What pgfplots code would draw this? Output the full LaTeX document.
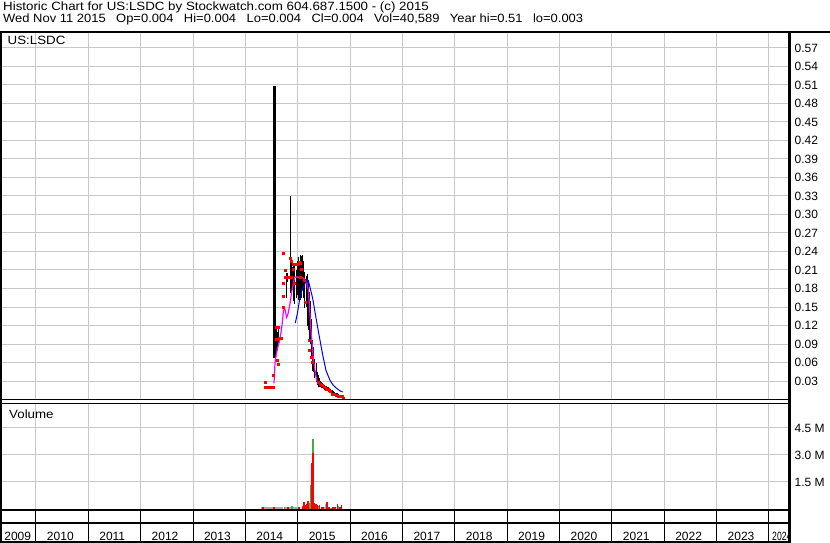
\documentclass[border=0pt]{standalone}
\usepackage{graphicx}
\usepackage{pgfplots}
\pgfplotsset{compat=1.18}
\usepackage{pgfplotstable}
\usepackage{fontspec}
\setmainfont{Liberation Sans}

\definecolor{gridgray}{RGB}{200,200,200}
\definecolor{volred}{RGB}{255,0,0}
\definecolor{volgreen}{RGB}{70,170,70}
\definecolor{volgray}{RGB}{170,170,170}
\definecolor{mablue}{RGB}{0,0,255}
\definecolor{mamag}{RGB}{255,0,255}
\newcommand{\tw}{\fontsize{12pt}{14pt}\selectfont}
\newcommand{\hx}[1]{\scalebox{1.11}[1]{#1}}
\newcommand{\gap}{\hspace{9.7pt}}

% daily high/low bars (year, low, high)
\pgfplotstableread{
x lo hi
2014.545 0.068 0.509
2014.555 0.068 0.509
2014.565 0.068 0.509
2014.584 0.075 0.120
2014.603 0.080 0.110
2014.622 0.090 0.118
2014.775 0.165 0.205
2014.794 0.190 0.205
2014.870 0.172 0.330
2014.889 0.175 0.221
2014.908 0.180 0.215
2014.927 0.160 0.222
2014.946 0.155 0.218
2014.966 0.165 0.210
2014.985 0.170 0.225
2015.004 0.161 0.231
2015.023 0.165 0.222
2015.042 0.161 0.234
2015.061 0.170 0.230
2015.080 0.165 0.232
2015.099 0.177 0.234
2015.118 0.165 0.225
2015.137 0.148 0.207
2015.157 0.150 0.200
2015.176 0.120 0.204
2015.195 0.112 0.190
2015.214 0.096 0.175
2015.233 0.090 0.160
2015.252 0.069 0.130
2015.271 0.065 0.118
2015.290 0.047 0.096
2015.309 0.045 0.085
2015.328 0.035 0.065
2015.348 0.028 0.059
2015.367 0.024 0.045
2015.386 0.020 0.040
2015.405 0.020 0.035
2015.424 0.020 0.030
2015.443 0.020 0.028
2015.462 0.018 0.028
2015.481 0.018 0.026
2015.500 0.017 0.025
2015.519 0.016 0.024
2015.539 0.015 0.022
2015.558 0.013 0.020
2015.577 0.012 0.020
2015.596 0.011 0.018
2015.615 0.010 0.017
2015.634 0.009 0.016
2015.653 0.008 0.015
2015.672 0.007 0.015
2015.691 0.006 0.013
2015.710 0.006 0.012
2015.730 0.005 0.011
2015.749 0.005 0.010
2015.768 0.005 0.009
2015.787 0.004 0.008
2015.806 0.004 0.008
2015.825 0.004 0.007
2015.844 0.003 0.006
2015.863 0.003 0.006
}\bars

% close ticks
\pgfplotstableread{
x c
2014.374 0.028
2014.374 0.020
2014.412 0.020
2014.450 0.020
2014.488 0.020
2014.526 0.020
2014.526 0.039
2014.584 0.118
2014.622 0.118
2014.584 0.098
2014.613 0.064
2014.622 0.058
2014.641 0.099
2014.679 0.099
2014.717 0.150
2014.717 0.167
2014.717 0.189
2014.717 0.238
2014.756 0.210
2014.756 0.199
2014.794 0.199
2014.832 0.199
2014.870 0.199
2014.851 0.229
2014.870 0.225
2014.908 0.219
2014.908 0.211
2014.927 0.189
2014.946 0.219
2014.985 0.219
2015.023 0.223
2015.042 0.221
2015.042 0.199
2015.061 0.212
2015.118 0.193
2015.137 0.158
2015.214 0.096
2015.214 0.080
2015.252 0.069
2015.271 0.060
2015.386 0.028
2015.424 0.025
2015.462 0.024
2015.500 0.020
2015.539 0.017
2015.577 0.016
2015.615 0.013
2015.653 0.009
2015.691 0.008
2015.730 0.007
2015.768 0.006
2015.806 0.005
2015.844 0.005
2015.863 0.002
}\closes

% short moving average
\pgfplotstableread{
x v
2014.545 0.026
2014.565 0.060
2014.593 0.075
2014.628 0.088
2014.660 0.098
2014.698 0.120
2014.727 0.145
2014.756 0.146
2014.788 0.133
2014.813 0.139
2014.851 0.155
2014.880 0.173
2014.908 0.185
2014.937 0.198
2014.985 0.199
2015.036 0.197
2015.080 0.198
2015.131 0.195
2015.166 0.191
2015.195 0.180
2015.220 0.156
2015.246 0.118
2015.271 0.093
2015.296 0.067
2015.328 0.047
2015.361 0.031
2015.392 0.027
2015.457 0.023
2015.519 0.021
2015.583 0.015
2015.648 0.010
2015.743 0.007
2015.839 0.006
}\maShort

% long moving average
\pgfplotstableread{
x v
2014.952 0.124
2014.991 0.139
2015.017 0.153
2015.042 0.166
2015.071 0.175
2015.105 0.181
2015.137 0.188
2015.170 0.193
2015.201 0.193
2015.233 0.182
2015.284 0.164
2015.328 0.142
2015.373 0.120
2015.424 0.096
2015.476 0.072
2015.539 0.047
2015.615 0.031
2015.678 0.023
2015.743 0.018
2015.806 0.014
2015.857 0.012
}\maLong

% volume, millions
\pgfplotstableread{
x v
2014.316 0.07
2014.354 0.07
2014.393 0.07
2014.431 0.07
2014.469 0.07
2014.507 0.07
2014.584 0.07
2014.622 0.07
2014.660 0.07
2014.698 0.07
2014.775 0.07
2014.851 0.07
2014.927 0.07
2014.966 0.07
2015.004 0.07
2015.510 0.06
2015.539 0.24
}\volGray
\pgfplotstableread{
x v
2014.746 0.07
2014.889 0.15
2015.153 0.12
2015.224 0.30
2015.252 1.30
2015.290 3.84
2015.386 0.12
2015.634 0.05
2015.777 0.12
}\volGreen
\pgfplotstableread{
x v
2014.335 0.08
2014.545 0.08
2014.813 0.07
2015.023 0.10
2015.090 0.15
2015.118 0.38
2015.137 0.20
2015.170 0.24
2015.195 0.43
2015.271 2.53
2015.290 3.05
2015.323 0.33
2015.348 0.26
2015.373 0.20
2015.411 0.20
2015.449 0.10
2015.481 0.10
2015.558 0.38
2015.596 0.10
2015.672 0.10
2015.710 0.10
2015.758 0.26
2015.806 0.06
2015.834 0.20
}\volRed

\pgfplotsset{
  swpanel/.style={
    scale only axis, width=789pt, anchor=north west,
    xmin=2009.3125, xmax=2024.381,
    axis line style={draw=none}, major tick length=0pt,
    xtick={2010,...,2024}, xticklabels={},
    tick label style={font=\tw},
    /pgf/number format/assume math mode=true,
  },
  pricepanel/.style={swpanel, at={(0pt,-33pt)}, height=366.5pt,
    ymin=0, ymax=0.5943},
}

\begin{document}
\begin{tikzpicture}
\path[use as bounding box, fill=white] (0,0) rectangle (830pt,-543pt);

\begin{scope}[every node/.style={anchor=base west, inner sep=0pt, font=\tw}]
\node at (3pt,-10.3pt)
  {\hx{Historic Chart for US:LSDC by Stockwatch.com 604.687.1500 - (c) 2015}};
\node at (3pt,-23pt) {\scalebox{1.08}[1]{Wed Nov 11 2015\gap Op=0.004\gap Hi=0.004\gap
  Lo=0.004\gap Cl=0.004\gap Vol=40,589\gap Year hi=0.51\gap lo=0.003}};
\end{scope}

% price panel: grid, ticks and high/low bars
\begin{axis}[pricepanel,
  ytick={0.03,0.06,0.09,0.12,0.15,0.18,0.21,0.24,0.27,0.30,0.33,0.36,0.39,0.42,0.45,0.48,0.51,0.54,0.57},
  yticklabel pos=right,
  yticklabel style={anchor=west, inner sep=0pt, xshift=5.5pt},
  /pgf/number format/fixed, /pgf/number format/fixed zerofill,
  /pgf/number format/precision=2,
  grid=major, major grid style={draw=gridgray, line width=1pt}]
\addplot[draw=none, mark=none, error bars/.cd, y dir=plus, y explicit,
  error mark=none, error bar style={draw=black, line width=1pt}]
  table[x=x, y=lo, y error expr=\thisrow{hi}-\thisrow{lo}] {\bars};
\end{axis}
% price panel: closes and moving averages drawn over the bars
\begin{axis}[pricepanel, xtick=\empty, ytick=\empty]
\addplot[red, only marks, mark=square*, mark size=1pt,
  mark options={draw=none, fill=red}] table[x=x, y=c] {\closes};
\addplot[mamag, line width=1.2pt, mark=none] table[x=x, y=v] {\maShort};
\addplot[mablue, line width=1pt, mark=none] table[x=x, y=v] {\maLong};
\end{axis}
\node[anchor=base west, inner sep=0pt, font=\tw] at (7.5pt,-44.3pt) {\hx{US:LSDC}};

% volume panel
\begin{axis}[swpanel, at={(0pt,-403.3pt)}, height=106.2pt,
  ymin=-0.055, ymax=5.81,
  ytick={1.5,3,4.5}, yticklabels={1.5 M,3.0 M,4.5 M},
  yticklabel pos=right,
  yticklabel style={anchor=west, inner sep=0pt, xshift=5.5pt, yshift=-1.5pt},
  grid=major, major grid style={draw=gridgray, line width=1pt}]
\addplot[ycomb, draw=volgray, line width=1.3pt, mark=none] table[x=x, y=v] {\volGray};
\addplot[ycomb, draw=volgreen, line width=1.3pt, mark=none] table[x=x, y=v] {\volGreen};
\addplot[ycomb, draw=volred, line width=1.3pt, mark=none] table[x=x, y=v] {\volRed};
\end{axis}
\node[anchor=base west, inner sep=0pt, font=\tw] at (9pt,-418pt) {\hx{Volume}};

% empty date row
\begin{axis}[swpanel, at={(0pt,-509.5pt)}, height=13.8pt,
  ymin=0, ymax=1, ytick=\empty,
  xmajorgrids, major grid style={draw=black, line width=1pt}]
\end{axis}

% year row
\begin{axis}[swpanel, at={(0pt,-523.3pt)}, height=18.7pt,
  ymin=-1, ymax=1, ytick=\empty,
  xmajorgrids, major grid style={draw=black, line width=1pt}]
\node[anchor=base west, inner sep=0pt, font=\tw] at (axis cs:2009.392,-0.79) {2009};
\pgfplotsinvokeforeach{2010,...,2023}{
  \node[anchor=base west, inner sep=0pt, font=\tw] at (axis cs:#1.206,-0.79) {#1};
}
\node[anchor=base west, inner sep=0pt, font=\tw] at (axis cs:2024.057,-0.79) {\scalebox{0.72}[1]{2024}};
\end{axis}
\fill[white] (790.5pt,-505pt) rectangle (830pt,-543pt);

% frame
\draw[line width=2pt] (0,-32pt) -- (830pt,-32pt);
\draw[line width=1pt] (0,-399.5pt) -- (789pt,-399.5pt);
\draw[line width=1pt] (0,-403.3pt) -- (789pt,-403.3pt);
\draw[line width=2pt] (0,-509.5pt) -- (789pt,-509.5pt);
\draw[line width=2pt] (0,-523.3pt) -- (789pt,-523.3pt);
\draw[line width=2pt] (0,-542pt) -- (789pt,-542pt);
\draw[line width=2.5pt] (789.5pt,-31pt) -- (789.5pt,-543pt);
\draw[line width=1.5pt] (0.75pt,-31pt) -- (0.75pt,-543pt);
\end{tikzpicture}
\end{document}
